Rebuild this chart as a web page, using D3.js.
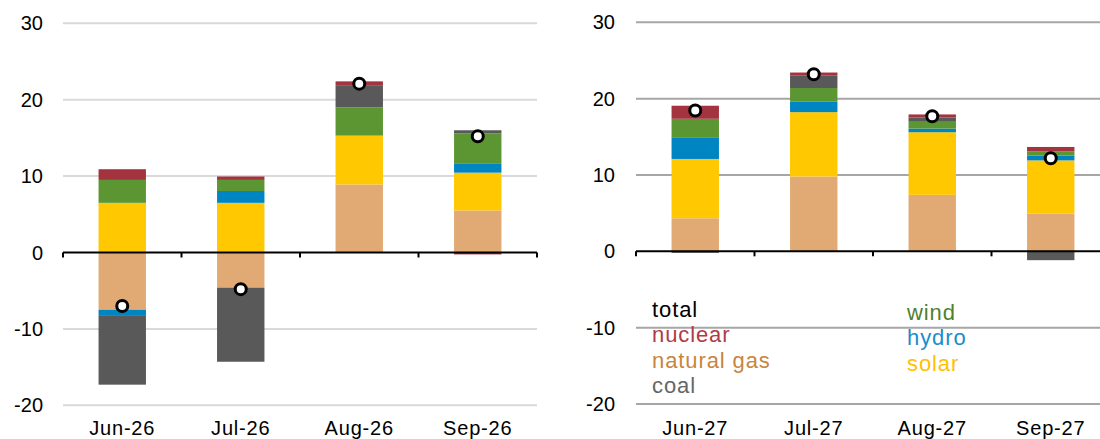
<!DOCTYPE html>
<html><head><meta charset="utf-8">
<script src="https://cdn.jsdelivr.net/npm/d3@7"></script>
<style>body{margin:0;background:#fff}svg{display:block;font-family:"Liberation Sans",Arial,sans-serif}</style>
</head><body><svg id="c" width="1100" height="439"></svg>
<script>
// ---- data ----
const keys = ["natural gas","solar","hydro","wind","coal","nuclear"];
const colors = ["#e1aa74","#ffc800","#0085c3","#5b9632","#595959","#a3343f"];
const yTicks = [-20,-10,0,10,20,30];

const months1 = ["Jun-26","Jul-26","Aug-26","Sep-26"];
const gas1     = [-7.5, -4.6, 8.9, 5.5];
const solar1   = [6.5, 6.5, 6.4, 4.95];
const hydro1   = [-0.8, 1.55, 0, 1.15];
const wind1    = [3.0, 1.45, 3.7, 4.0];
const coal1    = [-9.0, -9.7, 2.9, 0.4];
const nuclear1 = [1.4, 0.45, 0.5, -0.25];
const total1   = [-7.0, -4.8, 22.1, 15.2];

const months2 = ["Jun-27","Jul-27","Aug-27","Sep-27"];
const gas2     = [4.33, 9.8, 7.4, 4.94];
const solar2   = [7.77, 8.43, 8.2, 6.97];
const hydro2   = [2.84, 1.41, 0.48, 0.62];
const wind2    = [2.42, 1.75, 0.89, 0.57];
const coal2    = [-0.2, 1.67, 0.56, -1.16];
const nuclear2 = [1.71, 0.36, 0.4, 0.57];
const total2   = [18.45, 23.2, 17.7, 12.2];

const legendLeft  = ["total","nuclear","natural gas","coal"];
const legendLeftC = ["#000000","#b03a45","#c8853e","#666666"];
const legendRight = ["wind","hydro","solar"];
const legendRightC= ["#4f7f2f","#1b8dcc","#ffc000"];

const svg = d3.select("#c");

function panel(cfg){
  const {months, series, total, x0, x1, yTop, yBot, labelX, gridColor} = cfg;
  const rows = months.map((m,i)=>{ const r={month:m}; keys.forEach((k,j)=>r[k]=series[j][i]); return r; });
  const x = d3.scaleBand().domain(months).range([x0,x1]).paddingInner(0.6).paddingOuter(0.3);
  const y = d3.scaleLinear().domain([-20,30]).range([yBot,yTop]);
  const g = svg.append("g");
  // gridlines
  g.selectAll(".grid").data(yTicks.filter(t=>t!==0)).join("line")
    .attr("x1",x0).attr("x2",Math.min(x1,1100)).attr("y1",d=>y(d)).attr("y2",d=>y(d))
    .attr("stroke",gridColor).attr("stroke-width",2);
  // tick labels
  g.selectAll(".yl").data(yTicks).join("text")
    .attr("x",labelX).attr("y",d=>y(d)).attr("text-anchor","end").attr("dominant-baseline","central")
    .attr("font-size",20).attr("fill","#000").text(d=>d);
  // bars
  const stacked = d3.stack().keys(keys).offset(d3.stackOffsetDiverging)(rows);
  stacked.forEach((s,j)=>{
    g.append("g").attr("fill",colors[j]).selectAll("rect").data(s).join("rect")
      .attr("x",d=>x(d.data.month)).attr("width",x.bandwidth())
      .attr("y",d=>y(Math.max(d[0],d[1]))).attr("height",d=>Math.abs(y(d[0])-y(d[1])));
  });
  // zero axis
  g.append("line").attr("x1",x0).attr("x2",Math.min(x1,1100)).attr("y1",y(0)).attr("y2",y(0))
    .attr("stroke","#000").attr("stroke-width",2);
  const step = x.step();
  g.selectAll(".tk").data(d3.range(months.length+1)).join("line")
    .attr("x1",i=>x0+i*step).attr("x2",i=>x0+i*step).attr("y1",y(0)).attr("y2",y(0)+5)
    .attr("stroke","#000").attr("stroke-width",2);
  // category labels
  g.selectAll(".xl").data(months).join("text")
    .attr("x",d=>x(d)+x.bandwidth()/2).attr("y",435).attr("text-anchor","middle")
    .attr("font-size",20).attr("letter-spacing","0.8px").attr("fill","#000").text(d=>d);
  // total dots
  g.selectAll(".dot").data(months).join("circle")
    .attr("cx",d=>x(d)+x.bandwidth()/2).attr("cy",(d,i)=>y(total[i])).attr("r",5.5)
    .attr("fill","#fff").attr("stroke","#000").attr("stroke-width",3);
}

panel({months:months1, series:[gas1,solar1,hydro1,wind1,coal1,nuclear1], total:total1,
  x0:63, x1:537, yTop:23.3, yBot:405.3, labelX:43, gridColor:"#d9d9d9"});
panel({months:months2, series:[gas2,solar2,hydro2,wind2,coal2,nuclear2], total:total2,
  x0:636, x1:1110, yTop:22.3, yBot:404, labelX:615, gridColor:"#a6a6a6"});

// legend
const lg = svg.append("g").attr("font-size",22).attr("letter-spacing","0.9px");
lg.selectAll(".ll").data(legendLeft).join("text")
  .attr("x",652).attr("y",(d,i)=>317+i*25.3).attr("fill",(d,i)=>legendLeftC[i]).text(d=>d);
lg.selectAll(".lr").data(legendRight).join("text")
  .attr("x",907).attr("y",(d,i)=>320+i*25.3).attr("fill",(d,i)=>legendRightC[i]).text(d=>d);
</script></body></html>
